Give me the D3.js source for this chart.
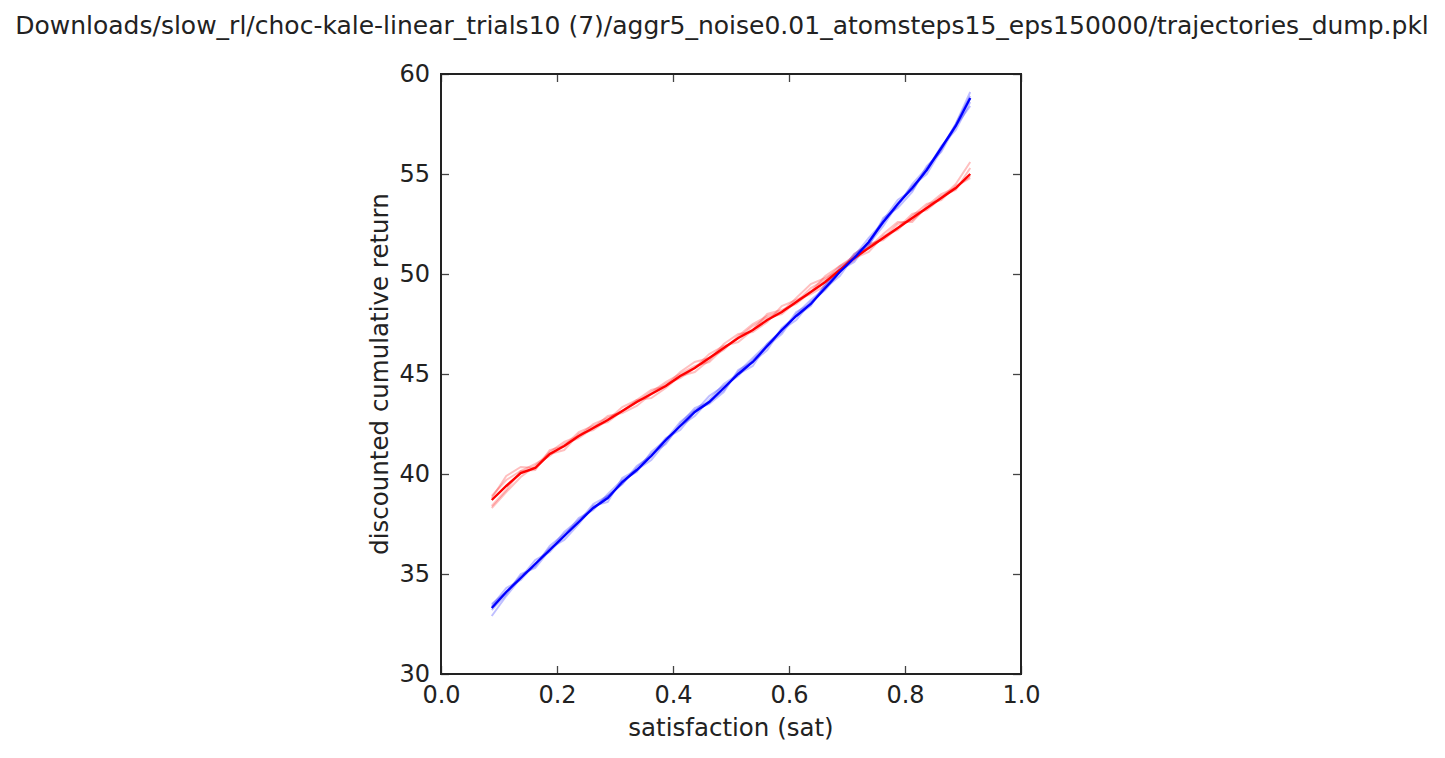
<!DOCTYPE html>
<html>
<head>
<meta charset="utf-8">
<script src="https://cdn.jsdelivr.net/npm/d3@7"></script>
<style>
  body { margin: 0; background: #fff; }
  text { font-family: "DejaVu Sans", sans-serif; fill: #222; }
</style>
</head>
<body>
<svg id="chart" width="1445" height="758"></svg>
<script>
const title = "Downloads/slow_rl/choc-kale-linear_trials10 (7)/aggr5_noise0.01_atomsteps15_eps150000/trajectories_dump.pkl";

const satValues = [0.0875, 0.1125, 0.1375, 0.1625, 0.1875, 0.2125, 0.2375, 0.2625, 0.2875, 0.3125,
    0.3375, 0.3625, 0.3875, 0.4125, 0.4375, 0.4625, 0.4875, 0.5125, 0.5375, 0.5625,
    0.5875, 0.6125, 0.6375, 0.6625, 0.6875, 0.7125, 0.7375, 0.7625, 0.7875, 0.8125,
    0.8375, 0.8625, 0.8875, 0.9125];

// mean curves
const redMean = [38.7, 39.4, 40.05, 40.3, 41.0, 41.4, 41.9, 42.3, 42.7, 43.15, 43.6, 44.0, 44.4, 44.9, 45.3, 45.8, 46.3,
    46.8, 47.2, 47.7, 48.1, 48.6, 49.1, 49.6, 50.2, 50.8, 51.3, 51.8, 52.3, 52.8, 53.3, 53.8, 54.3, 55.0];
const blueMean = [33.3, 34.1, 34.8, 35.5, 36.2, 36.9, 37.6, 38.3, 38.8, 39.6, 40.2, 40.9, 41.7, 42.4, 43.1, 43.6, 44.3,
    45.0, 45.6, 46.4, 47.2, 47.9, 48.5, 49.3, 50.1, 50.8, 51.6, 52.6, 53.5, 54.3, 55.2, 56.3, 57.4, 58.8];

// individual trials (faint)
const redTrials = [
  [38.9, 39.7, 40.15, 40.2, 41.2, 41.4, 42.1, 42.4, 42.6, 43.15, 43.7, 44.2, 44.4, 45.1, 45.6, 45.8, 46.2,
   46.9, 47.5, 47.9, 48.1, 48.8, 49.5, 49.8, 50.2, 50.7, 51.4, 51.8, 52.5, 52.7, 53.3, 53.9, 54.2, 55.3],
  [38.4, 39.2, 40.15, 40.5, 40.9, 41.5, 41.8, 42.3, 42.9, 43.05, 43.4, 44.0, 44.5, 44.8, 45.3, 46.0, 46.4,
   46.6, 47.2, 48.0, 48.2, 48.5, 49.1, 49.9, 50.4, 50.8, 51.1, 51.9, 52.2, 52.9, 53.5, 53.7, 54.4, 54.8],
  [38.8, 39.9, 40.35, 40.3, 41.0, 41.2, 42.0, 42.2, 42.7, 43.35, 43.7, 43.8, 44.3, 44.9, 45.1, 45.7, 46.5,
   47.0, 47.1, 47.6, 48.4, 48.7, 49.0, 49.4, 50.1, 51.0, 51.5, 51.7, 52.3, 53.0, 53.2, 53.8, 54.5, 55.6],
  [38.3, 39.1, 39.85, 40.4, 41.1, 41.6, 41.9, 42.5, 42.8, 43.15, 43.6, 44.1, 44.6, 45.0, 45.4, 45.6, 46.3,
   46.8, 47.4, 47.8, 48.0, 48.6, 49.3, 49.7, 50.4, 50.9, 51.3, 52.0, 52.6, 52.6, 53.4, 54.0, 54.3, 54.9]
];
const blueTrials = [
  [33.5, 34.1, 34.9, 35.4, 36.4, 37.0, 37.6, 38.5, 38.9, 39.5, 40.4, 40.9, 41.8, 42.2, 43.1, 43.9, 44.4,
   44.9, 45.7, 46.4, 47.0, 48.0, 48.7, 49.3, 49.9, 50.9, 51.8, 52.6, 53.4, 54.5, 55.3, 56.3, 57.5, 59.1],
  [32.9, 33.9, 34.8, 35.7, 36.1, 36.9, 37.8, 38.2, 39.0, 39.7, 40.1, 41.1, 41.7, 42.6, 43.2, 43.5, 44.1,
   45.2, 45.6, 46.2, 47.3, 47.9, 48.4, 49.5, 50.2, 50.6, 51.6, 52.7, 53.7, 54.2, 55.2, 56.4, 57.2, 58.6],
  [33.4, 34.3, 34.7, 35.5, 36.3, 36.7, 37.5, 38.4, 38.6, 39.8, 40.2, 40.7, 41.6, 42.4, 42.9, 43.7, 44.5,
   45.0, 45.4, 46.5, 47.2, 47.7, 48.6, 49.2, 50.1, 51.0, 51.5, 52.4, 53.5, 54.4, 55.0, 56.2, 57.5, 58.9],
  [33.2, 34.0, 35.0, 35.3, 36.2, 37.1, 37.7, 38.3, 38.9, 39.5, 40.3, 41.0, 41.5, 42.5, 43.3, 43.6, 44.2,
   45.1, 45.8, 46.5, 47.1, 48.1, 48.5, 49.4, 50.3, 50.8, 51.4, 52.8, 53.3, 54.1, 55.4, 56.1, 57.4, 58.4]
];

const xTicks = [0.0, 0.2, 0.4, 0.6, 0.8, 1.0];
const yTicks = [30, 35, 40, 45, 50, 55, 60];

const svg = d3.select("#chart");
const mLeft = 441, mRight = 1021, mTop = 74, mBottom = 674;

const x = d3.scaleLinear().domain([0, 1]).range([mLeft, mRight]);
const y = d3.scaleLinear().domain([30, 60]).range([mBottom, mTop]);

const line = d3.line()
    .x((d, i) => x(satValues[i]))
    .y(d => y(d));

const plot = svg.append("g");

redTrials.forEach(t => {
    plot.append("path").attr("d", line(t))
        .attr("fill", "none").attr("stroke", "red").attr("stroke-opacity", 0.25).attr("stroke-width", 2);
});
blueTrials.forEach(t => {
    plot.append("path").attr("d", line(t))
        .attr("fill", "none").attr("stroke", "blue").attr("stroke-opacity", 0.25).attr("stroke-width", 2);
});
plot.append("path").attr("d", line(redMean))
    .attr("fill", "none").attr("stroke", "red").attr("stroke-width", 2.4);
plot.append("path").attr("d", line(blueMean))
    .attr("fill", "none").attr("stroke", "blue").attr("stroke-width", 2.4);

// axes, ticks pointing inward on all sides
const tickLen = 8;
function styleAxis(g) {
    g.select(".domain").remove();
    g.selectAll(".tick line").attr("stroke", "#444").attr("stroke-width", 1.3);
    g.selectAll(".tick text").style("font-family", "DejaVu Sans, sans-serif").style("font-size", "24px").attr("fill", "#222");
}

svg.append("g").attr("transform", `translate(0,${mBottom})`)
    .call(d3.axisBottom(x).tickValues(xTicks).tickFormat(d3.format(".1f")).tickSizeInner(-tickLen).tickSizeOuter(0).tickPadding(12))
    .call(styleAxis);
svg.append("g").attr("transform", `translate(0,${mTop})`)
    .call(d3.axisTop(x).tickValues(xTicks).tickFormat("").tickSizeInner(-tickLen).tickSizeOuter(0))
    .call(styleAxis);
svg.append("g").attr("transform", `translate(${mLeft},0)`)
    .call(d3.axisLeft(y).tickValues(yTicks).tickFormat(d3.format("d")).tickSizeInner(-tickLen).tickSizeOuter(0).tickPadding(11))
    .call(styleAxis);
svg.append("g").attr("transform", `translate(${mRight},0)`)
    .call(d3.axisRight(y).tickValues(yTicks).tickFormat("").tickSizeInner(-tickLen).tickSizeOuter(0))
    .call(styleAxis);

svg.append("rect")
    .attr("x", mLeft).attr("y", mTop)
    .attr("width", mRight - mLeft).attr("height", mBottom - mTop)
    .attr("fill", "none").attr("stroke", "#222").attr("stroke-width", 2);

svg.append("text")
    .attr("x", 722).attr("y", 34)
    .attr("text-anchor", "middle")
    .style("font-size", "25px")
    .text(title);

svg.append("text")
    .attr("x", (mLeft + mRight) / 2).attr("y", 736)
    .attr("text-anchor", "middle")
    .style("font-size", "24.5px")
    .text("satisfaction (sat)");

svg.append("text")
    .attr("transform", `translate(388,${(mTop + mBottom) / 2}) rotate(-90)`)
    .attr("text-anchor", "middle")
    .style("font-size", "24.5px")
    .text("discounted cumulative return");
</script>
</body>
</html>
